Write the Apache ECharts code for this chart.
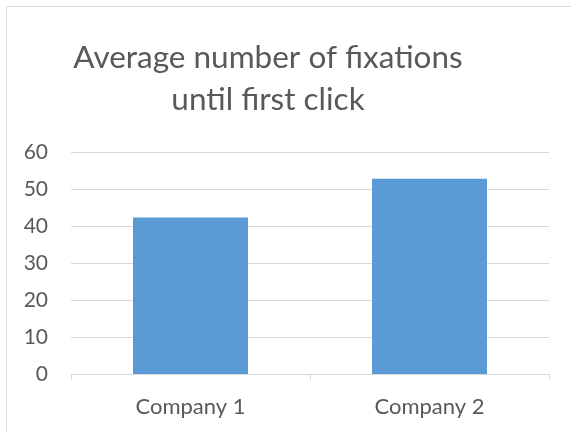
<!DOCTYPE html>
<html>
<head>
<meta charset="utf-8">
<script src="https://cdn.jsdelivr.net/npm/echarts@6/dist/echarts.min.js"></script>
<style>
  html, body { margin: 0; padding: 0; background: #fff; }
  #chart { width: 571px; height: 432px; }
</style>
</head>
<body>
<div id="chart"></div>
<script>
// Chart content
const titleLines = ['Average number of fixations', 'until first click'];
const categories = ['Company 1', 'Company 2'];
const fixations = [42.3, 52.8];
const yTicks = { min: 0, max: 60, interval: 10 };

const textColor = '#595959';
const gridColor = '#D9D9D9';
const barColor = '#5B9BD5';
const fontFamily = 'Lato, "Open Sans", sans-serif';

const chart = echarts.init(document.getElementById('chart'), null, { renderer: 'canvas' });

chart.setOption({
  backgroundColor: '#ffffff',
  animation: false,
  title: {
    text: titleLines.join('\n'),
    left: 263,
    top: 32,
    textAlign: 'center',
    textStyle: {
      color: textColor,
      fontFamily: fontFamily,
      fontWeight: 'normal',
      fontSize: 31.5,
      lineHeight: 42
    }
  },
  graphic: [{
    type: 'rect',
    silent: true,
    shape: { x: 6.5, y: 6.5, width: 700, height: 700 },
    style: { fill: 'none', stroke: '#D9D9D9', lineWidth: 1 }
  }],
  grid: { left: 71, right: 22, top: 152, bottom: 58 },
  xAxis: {
    type: 'category',
    data: categories,
    axisLine: { show: true, lineStyle: { color: gridColor, width: 1 } },
    axisTick: { show: true, length: 6, lineStyle: { color: gridColor } },
    axisLabel: {
      color: textColor,
      fontFamily: fontFamily,
      fontSize: 22,
      margin: 22
    }
  },
  yAxis: {
    type: 'value',
    min: yTicks.min,
    max: yTicks.max,
    interval: yTicks.interval,
    axisLine: { show: false },
    axisTick: { show: false },
    splitLine: { lineStyle: { color: gridColor, width: 1 } },
    axisLabel: {
      color: textColor,
      fontFamily: fontFamily,
      fontSize: 21,
      margin: 23
    }
  },
  series: [{
    type: 'bar',
    data: fixations,
    barWidth: 115,
    itemStyle: { color: barColor }
  }]
});
</script>
</body>
</html>
